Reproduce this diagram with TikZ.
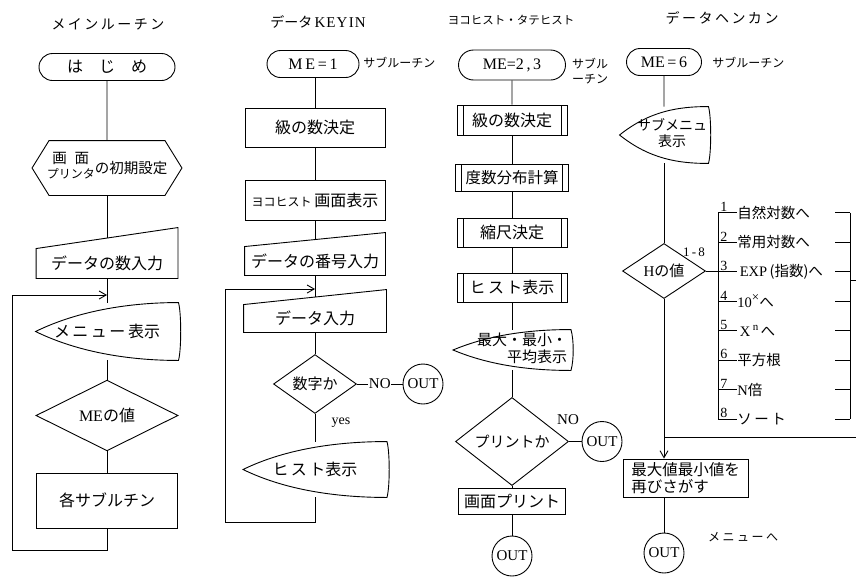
\documentclass[tikz,border=0pt]{standalone}
\usepackage{fontspec}
\setmainfont{Liberation Serif}
\newfontfamily\jp{Noto Sans CJK JP}
\usetikzlibrary{shapes.geometric,shapes.misc,calc,arrows.meta}
\newcommand\ks{\hspace{2.5pt}}
\newcommand\hexa[2]{\draw (#1.west) -- ([xshift=#2]#1.north west) -- ([xshift=-#2]#1.north east) -- (#1.east) -- ([xshift=-#2]#1.south east) -- ([xshift=#2]#1.south west) -- cycle;}
\newcommand\manin[2]{\draw (#1.south west) -- (#1.north west) -- ([yshift=#2]#1.north east) -- (#1.south east) -- cycle;}
\newcommand\disp[3]{\draw (#1.west) .. controls ([shift={(#2,#3)}]#1.west) and ([xshift=-#2]#1.north east) .. (#1.north east) .. controls ([shift={(3pt,-10pt)}]#1.north east) and ([shift={(3pt,10pt)}]#1.south east) .. (#1.south east) .. controls ([xshift=-#2]#1.south east) and ([shift={(#2,-#3)}]#1.west) .. (#1.west) -- cycle;}
\begin{document}
\begin{tikzpicture}[x=1pt,y=-1pt,line width=0.9pt,
 jpf/.style={font=\jp\fontsize{16}{18}\selectfont},
 sbox/.style={draw,rectangle,inner sep=1pt,jpf},
 splain/.style={rectangle,inner sep=1pt,jpf},
 sterm/.style={draw,rounded rectangle,minimum height=27pt,inner sep=1pt,font=\rmfamily\fontsize{16}{18}\selectfont},
 sdec/.style={draw,diamond,inner sep=0pt,font=\jp\fontsize{15}{17}\selectfont},
 spre/.style={sbox,path picture={\draw ([xshift=6pt]path picture bounding box.north west) -- ([xshift=6pt]path picture bounding box.south west) ([xshift=-6pt]path picture bounding box.north east) -- ([xshift=-6pt]path picture bounding box.south east);}},
 sout/.style={draw,circle,minimum size=40pt,inner sep=0pt,font=\rmfamily\fontsize{15}{17}\selectfont},
 stitle/.style={inner sep=0pt,font=\jp\fontsize{14}{16}\selectfont},
 slab/.style={inner sep=0pt,font=\jp\fontsize{12}{15}\selectfont},
 slat/.style={inner sep=0.5pt,font=\rmfamily\fontsize{15}{17}\selectfont},
 sitem/.style={inner sep=0pt,anchor=west,font=\jp\fontsize{14.5}{16}\selectfont},
 snum/.style={inner sep=0.5pt,anchor=south west,font=\rmfamily\fontsize{14}{14}\selectfont},
 sarr/.style={-{Straight Barb[length=7pt,width=8pt]}},
]
\useasboundingbox (0,0) rectangle (856,576);

% ---------------- Column 1: main routine
\node[stitle] (ti1) at (108,24) {メ\ks イ\ks ン\ks ル\ks ー\ks チ\ks ン};
\node[sterm,minimum width=138pt] (start) at (107,67) {\jp は\hspace{16pt}じ\hspace{16pt}め};
\node[splain,minimum width=149pt,minimum height=54pt,font=\jp\fontsize{14.5}{16}\selectfont] (init) at (107,168)
 {\begin{tabular}[b]{@{}c@{}}画\hspace{8pt}面\\[-1pt]{\fontsize{12}{13}\selectfont プリンタ}\end{tabular}\raisebox{5pt}{の初期設定}};
\hexa{init}{17pt}
\node[splain,minimum width=141pt,minimum height=29pt] (datanum) at (107,263.5) {データの数入力};
\manin{datanum}{21pt}
\coordinate (dntop) at ([yshift=10.5pt]datanum.north);
\node[splain,minimum width=142pt,minimum height=57pt] (menu) at (107,331.5) {メ\ks ニ\ks ュ\ks ー\ks 表示};
\disp{menu}{45pt}{22pt}
\node[sdec,minimum width=142pt,minimum height=55pt,font=\jp\fontsize{16}{18}\selectfont] (me) at (107,415.5) {{\rmfamily ME}の値};
\node[sbox,minimum width=141pt,minimum height=55pt] (subs) at (107,500.5) {各サブルチン};
\draw (start) -- (init);
\draw (init) -- (dntop);
\draw (datanum) -- (menu);
\draw (menu) -- (me);
\draw (me) -- (subs);
\coordinate (lp1b) at (12,550);
\coordinate (lp1t) at (12,295);
\draw (subs.south) -- (subs.south |- lp1b) -- (lp1b) -- (lp1t);
\draw[sarr] (lp1t) -- (lp1t -| subs.south);

% ---------------- Column 2: data KEYIN
\node[stitle] (ti2) at (318,22) {データ\,{\rmfamily\fontsize{15}{16}\selectfont K\kern1pt E\kern1pt Y\kern1.5pt I\kern1pt N}};
\node[sterm,minimum width=94pt] (t2) at (313,64) {M\,E\,=\,1};
\node[slab,anchor=west] (sub2) at (363,63) {サブルーチン};
\node[sbox,minimum width=140pt,minimum height=39pt] (k1) at (315,127.5) {級の数決定};
\node[sbox,minimum width=140pt,minimum height=40pt] (k2) at (315,200) {{\fontsize{12}{13}\selectfont ヨコヒスト}\,画面表示};
\node[splain,minimum width=140pt,minimum height=28pt] (k3) at (315,261) {データの番号入力};
\manin{k3}{14pt}
\coordinate (k3top) at ([yshift=7pt]k3.north);
\node[splain,minimum width=142pt,minimum height=27pt] (k4) at (315,318.5) {データ入力};
\manin{k4}{15pt}
\coordinate (k4top) at ([yshift=7.5pt]k4.north);
\node[sdec,minimum width=83pt,minimum height=57pt] (d2) at (315,384) {数字か};
\node[sout] (out2) at (423,384) {OUT};
\node[slat,font=\rmfamily\fontsize{14}{16}\selectfont] (yes) at (341,423) {yes};
\node[splain,minimum width=143pt,minimum height=55pt] (k5) at (315,469.5) {ヒ\ks ス\ks ト表示};
\disp{k5}{45pt}{22pt}
\draw (t2.south -| k1) -- (k1);
\draw (k1) -- (k2);
\draw (k2) -- (k3top);
\draw (k3) -- (k4top);
\draw (k4) -- (d2);
\draw (d2) -- node[slat,fill=white] {NO} (out2);
\draw (d2) -- (k5);
\coordinate (lp2b) at (225,522);
\coordinate (lp2t) at (225,289);
\draw (k5.south) -- (k5.south |- lp2b) -- (lp2b) -- (lp2t);
\draw[sarr] (lp2t) -- (lp2t -| k5.south);

% ---------------- Column 3: yoko/tate hist
\node[stitle,font=\jp\fontsize{11.5}{13}\selectfont] (ti3) at (511,20) {ヨコヒスト・タテヒスト};
\node[sterm,minimum width=109pt,minimum height=30pt] (t3) at (512,65) {ME=2\,,\,3};
\node[slab,align=right] (sub3) at (590,71) {サブル\\ーチン};
\node[spre,minimum width=110pt,minimum height=30pt] (p1) at (512,120) {級の数決定};
\node[spre,minimum width=113pt,minimum height=27pt,font=\jp\fontsize{15.5}{17}\selectfont] (p2) at (512,178) {度数分布計算};
\node[spre,minimum width=110pt,minimum height=29pt] (p3) at (512,232.5) {縮尺決定};
\node[spre,minimum width=110pt,minimum height=29pt] (p4) at (512,287.5) {ヒ\ks ス\ks ト表示};
\node[splain,minimum width=117pt,minimum height=40pt,inner sep=0pt,font=\jp\fontsize{15}{16}\selectfont] (p5) at (512,350)
 {\hspace{20pt}\begin{tabular}{@{}r@{}}最大・最小・\\平均表示\end{tabular}};
\disp{p5}{38pt}{16pt}
\node[sdec,minimum width=113pt,minimum height=53pt] (d3) at (512,441.5) {プリントか};
\node[sout] (out3) at (602,441.5) {OUT};
\node[slat] (no3) at (568,420) {NO};
\node[sbox,minimum width=107pt,minimum height=26pt] (p6) at (512,501.5) {画面プリント};
\node[sout] (out4) at (512,556) {OUT};
\draw (t3) -- (p1);
\draw (p1) -- (p2);
\draw (p2) -- (p3);
\draw (p3) -- (p4);
\draw (p4) -- (p5);
\draw (p5) -- (d3);
\draw (d3) -- (out3);
\draw (d3) -- (p6);
\draw (p6) -- (out4);

% ---------------- Column 4: data henkan
\node[stitle] (ti4) at (722,18) {デ\ks ー\ks タ\ks ヘ\ks ン\ks カ\ks ン};
\node[sterm,minimum width=77pt] (t4) at (664,62) {ME\,=\,6};
\node[slab,anchor=west] (sub4) at (712,63) {サブルーチン};
\node[splain,minimum width=88pt,minimum height=56pt,inner sep=0pt,font=\jp\fontsize{14}{15}\selectfont] (s1) at (664,135)
 {\hspace{16pt}\begin{tabular}{@{}c@{}}サブメニュ\\表示\end{tabular}};
\disp{s1}{30pt}{24pt}
\node[sdec,minimum width=83pt,minimum height=55pt] (h) at (664,271) {{\rmfamily H}の値};
\node[slat,font=\rmfamily\fontsize{13}{15}\selectfont] (r18) at (694,252) {1\,-\,8};
\draw (t4) -- (s1);
\draw (s1) -- (h);

% menu items
\foreach \i/\yy in {1/212.5,2/242,3/271.5,4/301,5/330.5,6/360,7/389.5,8/419}{
  \coordinate (L\i) at (718,\yy);
  \coordinate (RA\i) at (835,\yy);
  \coordinate (RB\i) at (850,\yy);
  \node[snum] (n\i) at (719.5,\yy) {\i};
  \draw (RA\i) -- (RB\i);
}
\node[sitem] (it1) at (737,212.5) {自然対数へ};
\node[sitem] (it2) at (737,242) {常用対数へ};
\node[sitem] (it3) at (737,271.5) {\,{\rmfamily EXP}\,(指数)へ};
\node[sitem] (it4) at (737,301) {{\rmfamily 10}\raisebox{6pt}{\rmfamily\fontsize{13}{13}\selectfont ×}へ};
\node[sitem] (it5) at (737,330.5) {\,{\rmfamily X}\,\raisebox{6pt}{\rmfamily\fontsize{11}{11}\selectfont n}\,へ};
\node[sitem] (it6) at (737,360) {平方根};
\node[sitem] (it7) at (737,389.5) {{\rmfamily N}倍};
\node[sitem] (it8) at (737,419) {ソ\ks ー\ks ト};
\foreach \i in {1,...,8}{ \draw (L\i) -- (it\i.west); }
\draw (L1) -- (L8);
\draw (RB1) -- (RB8);
\draw (h) -- (h.east -| L3);
\coordinate (stub) at (856,280);
\draw (stub -| RB1) -- (stub);

\node[sbox,minimum width=125pt,minimum height=38pt,align=left,inner sep=2pt,font=\jp\fontsize{15.5}{17}\selectfont] (m1) at (685.5,478) {最大値最小値を\\再びさがす};
\coordinate (ret) at (856,437);
\draw (ret) -- (ret -| h);
\draw[sarr] (h) -- (h |- m1.north);
\node[sout] (out5) at (664,553) {OUT};
\draw (m1.south -| h) -- (out5);
\node[slab] (tomenu) at (743,537) {メ\ks ニ\ks ュ\ks ー\ks へ};
\end{tikzpicture}
\end{document}
